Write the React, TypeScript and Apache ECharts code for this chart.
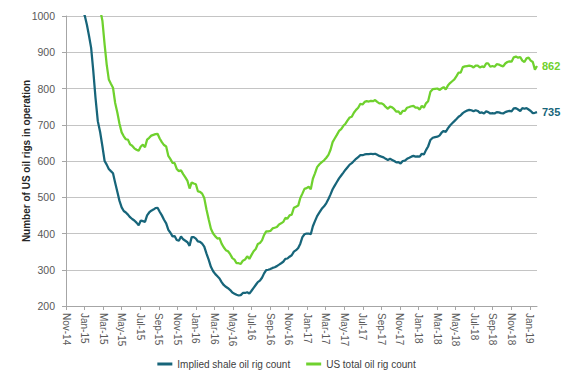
import React, { useEffect, useRef } from "react";
import * as echarts from "echarts";

// Weekly readings, first week Friday 2014-12-05, one value per week
const firstWeek = [2014, 11, 5];

const tickLabels = [
  "Nov-14", "Jan-15", "Mar-15", "May-15", "Jul-15", "Sep-15", "Nov-15", "Jan-16",
  "Mar-16", "May-16", "Jul-16", "Sep-16", "Nov-16", "Jan-17", "Mar-17", "May-17",
  "Jul-17", "Sep-17", "Nov-17", "Jan-18", "Mar-18", "May-18", "Jul-18", "Sep-18",
  "Nov-18", "Jan-19",
];

const seriesNames = ["Implied shale oil rig count", "US total oil rig count"];

const usTotal = [
  1546, 1536, 1499, 1499,
  1482, 1421, 1366, 1317, 1223, 1140, 1056, 1019, 986, 922, 866, 825, 813, 802, 760, 734, 703, 679, 668, 660, 659, 646,
  642, 635, 631, 628, 640, 645, 638, 659, 664, 670, 672, 674, 675, 662, 652, 644, 640, 614, 605, 595, 594, 578, 572, 574,
  564, 555, 545, 524, 541, 538,
  536, 516, 515, 510, 498, 467, 439, 413, 400, 392, 386, 387, 372, 362, 354, 351, 343, 332, 328, 318, 318, 316, 325, 328,
  337, 330, 341, 351, 357, 371, 374, 381, 396, 406, 406, 407, 414, 416, 418, 425, 428, 432, 443, 441, 450, 452, 471, 474,
  477, 498, 510, 523, 525,
  529, 522, 551, 566, 583, 591, 597, 602, 609, 617, 631, 652, 662, 672, 683, 688, 697, 703, 712, 720, 722, 733, 741, 747,
  758, 756, 763, 765, 764, 766, 765, 768, 763, 759, 759, 756, 749, 744, 750, 748, 743, 736, 737, 729, 738, 738, 747, 749,
  751, 752, 747, 747,
  742, 752, 747, 759, 765, 791, 798, 799, 800, 796, 800, 804, 797, 808, 815, 820, 825, 834, 844, 844, 859, 861, 862, 863,
  862, 858, 863, 863, 858, 861, 859, 869, 869, 860, 862, 860, 867, 866, 863, 861, 869, 873, 875, 874, 886, 888, 885, 887,
  877, 873, 883, 885,
  877, 873, 852, 862,
];

const shaleImplied = [
  1045, 1040, 1022, 1015,
  1000, 975, 945, 912, 850, 775, 710, 680, 640, 600, 590, 578, 572, 566, 540, 515, 490, 472, 462, 458, 452, 445,
  440, 436, 430, 423, 436, 434, 432, 450, 458, 463, 466, 470, 471, 460, 450, 438, 428, 410, 402, 392, 393, 382, 380, 392,
  384, 380, 376, 366, 390, 390,
  386, 378, 377, 372, 364, 345, 328, 308, 296, 288, 282, 276, 266, 258, 253, 249, 244, 237, 234, 231, 229, 230, 236, 236,
  238, 234, 242, 250, 258, 266, 270, 278, 290, 299, 300, 302, 305, 307, 310, 314, 318, 322, 330, 331, 336, 340, 350, 354,
  360, 372, 390, 398, 400,
  400, 398, 420, 434, 448, 458, 468, 475, 484, 495, 508, 522, 532, 542, 552, 560, 568, 576, 583, 590, 594, 600, 606, 611,
  616, 616, 618, 619, 619, 620, 619, 620, 617, 614, 612, 610, 606, 603, 606, 603, 600, 596, 597, 593, 600, 601, 606, 609,
  612, 614, 612, 613,
  612, 620, 618, 630, 640, 658, 664, 666, 667, 670, 678, 683, 680, 690, 698, 704, 710, 716, 722, 726, 732, 736, 739, 741,
  740, 737, 740, 738, 733, 734, 731, 737, 735, 731, 732, 731, 735, 734, 732, 731, 735, 737, 738, 737, 745, 746, 742, 738,
  746, 744, 746, 742,
  738, 732, 733, 735,
];

// months elapsed since 1 Nov 2014 (fractional)
function monthsSinceNov14(d: Date): number {
  const y = d.getUTCFullYear();
  const mo = d.getUTCMonth();
  const day = d.getUTCDate();
  const dim = new Date(Date.UTC(y, mo + 1, 0)).getUTCDate();
  return (y - 2014) * 12 + (mo - 10) + (day - 1) / dim;
}

const weekX = usTotal.map((_, i) =>
  monthsSinceNov14(new Date(Date.UTC(firstWeek[0], firstWeek[1], firstWeek[2] + 7 * i)))
);

const BLUE = "#17657a";
const GREEN = "#6fd12e";
const FONT = "'Liberation Sans', Arial, sans-serif";

export default function App() {
  const ref = useRef<HTMLDivElement>(null);

  useEffect(() => {
    if (!ref.current) return;
    const chart = echarts.init(ref.current, undefined, { renderer: "svg" });
    const xMax = weekX[weekX.length - 1];

    const mkSeries = (name: string, vals: number[], color: string) => ({
      name,
      type: "line",
      data: vals.map((v, i) => [weekX[i], v]),
      showSymbol: false,
      symbol: "none",
      clip: true,
      lineStyle: { color, width: 2.25 },
      itemStyle: { color },
      endLabel: {
        show: true,
        formatter: (p: any) => String(p.value[1]),
        color,
        fontSize: 11,
        fontWeight: "bold",
        fontFamily: FONT,
        distance: 5,
      },
    });

    chart.setOption({
      animation: false,
      textStyle: { fontFamily: FONT },
      grid: { left: 66, right: 36, top: 16, bottom: 70 },
      xAxis: {
        type: "value",
        min: 0,
        max: xMax,
        interval: 2,
        axisLine: { show: true, onZero: false, lineStyle: { color: "#a6a6a6", width: 1 } },
        axisTick: { show: true, length: 4, lineStyle: { color: "#a6a6a6" } },
        splitLine: { show: false },
        axisLabel: {
          rotate: -90,
          fontSize: 10,
          color: "#595959",
          margin: 7,
          showMaxLabel: false,
          formatter: (v: number) => {
            const k = Math.round(v / 2);
            return Math.abs(v - k * 2) < 1e-6 && tickLabels[k] ? tickLabels[k] : "";
          },
        },
      },
      yAxis: {
        type: "value",
        min: 200,
        max: 1000,
        interval: 100,
        name: "Number of US oil rigs in operation",
        nameLocation: "middle",
        nameRotate: 90,
        nameGap: 35,
        nameMoveOverlap: false,
        nameTextStyle: { fontSize: 10, fontWeight: "bold", color: "#262626" },
        axisLine: { show: true, lineStyle: { color: "#a6a6a6" } },
        axisTick: { show: true, length: 4, lineStyle: { color: "#a6a6a6" } },
        splitLine: { show: true, lineStyle: { color: "#c4c4c4", width: 1 } },
        axisLabel: {
          fontSize: 10.5,
          color: "#595959",
          margin: 11,
          formatter: (v: number) => String(v),
        },
      },
      legend: {
        data: seriesNames,
        left: "center",
        top: 354,
        icon: "rect",
        itemWidth: 15,
        itemHeight: 3,
        itemGap: 16,
        textStyle: { fontSize: 10, color: "#404040" },
      },
      series: [
        mkSeries(seriesNames[0], shaleImplied, BLUE),
        mkSeries(seriesNames[1], usTotal, GREEN),
      ],
    });

    return () => chart.dispose();
  }, []);

  return (
    <div
      ref={ref}
      style={{ position: "absolute", left: 0, top: 0, width: 573, height: 376, background: "#fff" }}
    />
  );
}
